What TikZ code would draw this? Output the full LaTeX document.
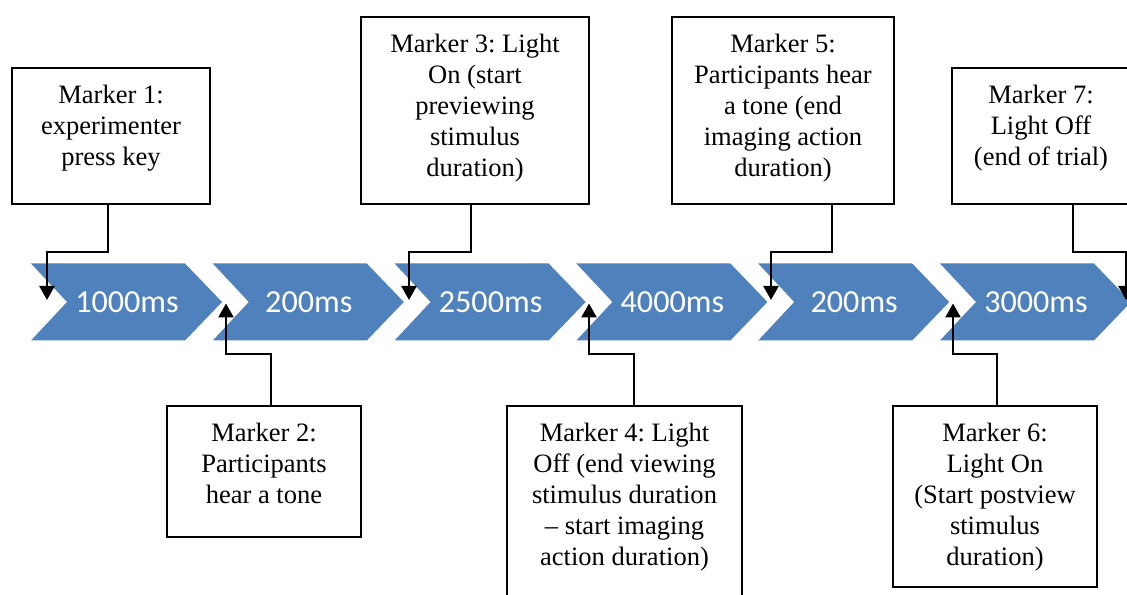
\documentclass[tikz,border=0pt]{standalone}
\usepackage{fontspec}
\usepackage{tikz}
\usetikzlibrary{arrows.meta}
\usetikzlibrary{calc}

\setmainfont{Liberation Serif}
\newfontfamily\chevfont{Carlito}
\frenchspacing

\definecolor{chevblue}{RGB}{79,129,189}

\newcommand{\markertext}[3]{\parbox[c][#1][t]{#2}{\vspace*{0.35cm}\centering #3}}

\begin{document}
\begin{tikzpicture}[
        marker_style/.style={draw=black, line width=1.2pt, fill=white, inner sep=0pt,
            font=\fontsize{15.1pt}{17.6pt}\selectfont},
        chev_style/.style={fill=chevblue},
        label_style/.style={text=white, inner sep=0pt, font=\chevfont\fontsize{18.3pt}{20pt}\selectfont},
        link_style/.style={draw=black, line width=1.5pt, -{Triangle[length=0.28cm,width=0.3cm]}}]

        \useasboundingbox (0,0) rectangle (22.54,11.9);
        \clip (0,0) rectangle (22.54,11.9);

        % time line
        \foreach \i/\t in {1/1000ms,2/200ms,3/2500ms,4/4000ms,5/200ms,6/3000ms} {
            \pgfmathsetmacro\x{0.62+3.636*(\i-1)}
            \fill [chev_style] (\x,6.63) -- ++(3.08,0) -- ++(0.74,-0.77) -- ++(-0.74,-0.77)
                -- ++(-3.08,0) -- ++(0.72,0.77) -- cycle;
            \node [label_style] (c\i) at (\x+1.92,5.86) {\t};
        }

        \coordinate (hi) at (0,6.86);
        \coordinate (lo) at (0,4.82);

        \coordinate (t1) at (0.94,5.9);
        \coordinate (t2) at (4.52,5.83);
        \coordinate (t3) at (8.18,5.9);
        \coordinate (t4) at (11.78,5.83);
        \coordinate (t5) at (15.42,5.9);
        \coordinate (t6) at (19.06,5.83);
        \coordinate (t7) at (22.52,5.9);

        % markers above
        \node [marker_style] (m1) at (2.22,9.18) {\markertext{2.72cm}{3.96cm}{Marker 1:\\experimenter\\press key}};

        \node [marker_style] (m3) at (9.50,9.69) {\markertext{3.74cm}{4.56cm}{Marker 3: Light\\On (start\\previewing\\stimulus\\duration)}};

        \node [marker_style] (m5) at (15.66,9.69) {\markertext{3.74cm}{4.44cm}{Marker 5:\\Participants hear\\a tone (end\\imaging action\\duration)}};

        \node [marker_style] (m7) at (20.82,9.18) {\markertext{2.72cm}{3.56cm}{Marker 7:\\Light Off\\(end of trial)}};

        % markers below
        \node [marker_style] (m2) at (5.28,2.47) {\markertext{2.62cm}{3.88cm}{Marker 2:\\Participants\\hear a tone}};

        \node [marker_style] (m4) at (12.49,1.79) {\markertext{3.98cm}{4.70cm}{Marker 4: Light\\Off (end viewing\\stimulus duration\\-- start imaging\\action duration)}};

        \node [marker_style] (m6) at (19.90,1.97) {\markertext{3.62cm}{4.08cm}{Marker 6:\\Light On\\(Start postview\\stimulus\\duration)}};

        \draw [link_style] ([xshift=-0.06cm]m1.south) |- (t1 |- hi) -- (t1);

        \draw [link_style] ([xshift=-0.08cm]m3.south) |- (t3 |- hi) -- (t3);

        \draw [link_style] ([xshift=0.98cm]m5.south) |- (t5 |- hi) -- (t5);

        \draw [link_style] ([xshift=0.64cm]m7.south) |- (t7 |- hi) -- (t7);

        \draw [link_style] ([xshift=0.14cm]m2.north) |- (t2 |- lo) -- (t2);

        \draw [link_style] ([xshift=0.19cm]m4.north) |- (t4 |- lo) -- (t4);

        \draw [link_style] ([xshift=0.04cm]m6.north) |- (t6 |- lo) -- (t6);

        \end{tikzpicture}
\end{document}
